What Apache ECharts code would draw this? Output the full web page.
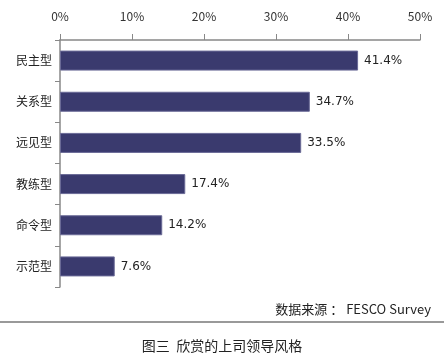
<!DOCTYPE html>
<html><head><meta charset="utf-8">
<script src="https://cdn.jsdelivr.net/npm/echarts@6/dist/echarts.min.js"></script>
<style>html,body{margin:0;padding:0;background:#fff}#c{width:444px;height:353px}</style>
</head><body><div id="c"></div>
<script>
var categories = ['民主型','关系型','远见型','教练型','命令型','示范型'];
var values = [41.4, 34.7, 33.5, 17.4, 14.2, 7.6];
var xTicks = [0, 10, 20, 30, 40, 50];
var sourceText = '数据来源 ： FESCO Survey';
var titleText = '图三  欣赏的上司领导风格';

var chart = echarts.init(document.getElementById('c'));
var font = '"Noto Sans CJK SC", "DejaVu Sans", sans-serif';
chart.setOption({
  animation: false,
  backgroundColor: '#fff',
  grid: {left: 60, right: 24, top: 40, bottom: 66},
  title: [
    {text: sourceText, right: 8, top: 298, textStyle: {fontSize: 13, fontWeight: 'normal', color: '#222', fontFamily: font}},
    {text: titleText, left: 'center', top: 334, textStyle: {fontSize: 14, fontWeight: 'normal', color: '#222', fontFamily: font}}
  ],
  graphic: [{type: 'line', shape: {x1: 0, y1: 322, x2: 444, y2: 322}, style: {stroke: '#999', lineWidth: 2}}],
  xAxis: {
    type: 'value', position: 'top', min: xTicks[0], max: xTicks[xTicks.length-1], interval: 10,
    axisLine: {show: true, lineStyle: {color: '#888', width: 1.5}},
    axisTick: {show: true, length: 6, lineStyle: {color: '#888'}},
    splitLine: {show: false},
    axisLabel: {formatter: '{value}%', margin: 18, fontSize: 12, color: '#333', fontFamily: font}
  },
  yAxis: {
    type: 'category', data: categories, inverse: true,
    axisLine: {lineStyle: {color: '#888', width: 1.5}},
    axisTick: {show: true, length: 5, lineStyle: {color: '#888'}},
    axisLabel: {fontSize: 12, color: '#222', margin: 8, fontFamily: font}
  },
  series: [{
    type: 'bar', data: values, barWidth: 20,
    itemStyle: {color: '#3a3a6e', borderColor: '#6a6a96', borderWidth: 1},
    label: {show: true, position: 'right', distance: 6, formatter: function(p){return p.value.toFixed(1)+'%';}, fontSize: 12, color: '#222', fontFamily: '"DejaVu Sans", sans-serif'}
  }]
});
</script></body></html>
